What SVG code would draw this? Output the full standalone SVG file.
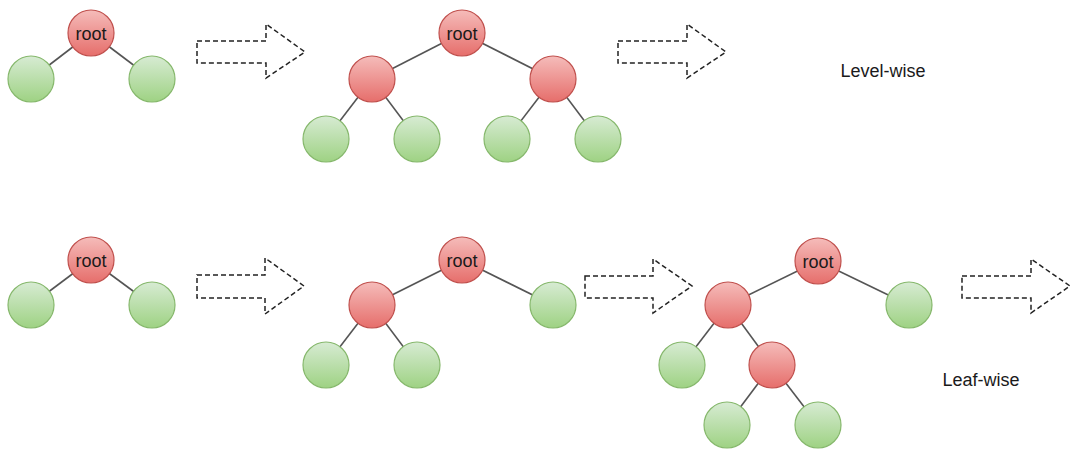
<svg xmlns="http://www.w3.org/2000/svg" width="1080" height="455" viewBox="0 0 1080 455">
<defs>
<linearGradient id="gr" x1="0" y1="0" x2="0" y2="1"><stop offset="0" stop-color="#f5bcba"/><stop offset="1" stop-color="#e66e6b"/></linearGradient>
<linearGradient id="gg" x1="0" y1="0" x2="0" y2="1"><stop offset="0" stop-color="#d7ebd3"/><stop offset="1" stop-color="#9ed283"/></linearGradient>
<style>
.r{fill:url(#gr);stroke:#c0504d;stroke-width:1.2}
.g{fill:url(#gg);stroke:#86b86c;stroke-width:1.2}
.e{stroke:#555;stroke-width:1.6;fill:none}
.a{fill:#fff;stroke:#222;stroke-width:1.5;stroke-dasharray:5 3}
.t{font-family:"Liberation Sans",Arial,sans-serif;font-size:18px;fill:#1a1a1a;text-anchor:middle}
</style>
</defs>
<rect width="1080" height="455" fill="#fff"/>
<g id="connectors">
<line class="e" x1="91" y1="33" x2="31" y2="79"/>
<line class="e" x1="91" y1="33" x2="152" y2="79"/>
<line class="e" x1="462" y1="33" x2="372" y2="79"/>
<line class="e" x1="462" y1="33" x2="553" y2="79"/>
<line class="e" x1="372" y1="79" x2="326" y2="139"/>
<line class="e" x1="372" y1="79" x2="417" y2="139"/>
<line class="e" x1="553" y1="79" x2="507" y2="139"/>
<line class="e" x1="553" y1="79" x2="598" y2="139"/>
<line class="e" x1="91" y1="260" x2="31" y2="305"/>
<line class="e" x1="91" y1="260" x2="152" y2="305"/>
<line class="e" x1="462" y1="260" x2="372" y2="305"/>
<line class="e" x1="462" y1="260" x2="553" y2="305"/>
<line class="e" x1="372" y1="305" x2="326" y2="365"/>
<line class="e" x1="372" y1="305" x2="417" y2="365"/>
<line class="e" x1="818" y1="261" x2="728" y2="305"/>
<line class="e" x1="818" y1="261" x2="909" y2="305"/>
<line class="e" x1="728" y1="305" x2="682" y2="365"/>
<line class="e" x1="728" y1="305" x2="772" y2="365"/>
<line class="e" x1="772" y1="365" x2="727" y2="425"/>
<line class="e" x1="772" y1="365" x2="818" y2="425"/>
</g>
<g id="arrow1"><path class="a" d="M197,41 H266 V24 L305,52 L266,78 V63 H197 Z"/></g>
<g id="arrow2"><path class="a" d="M618,41 H687 V24 L726,52 L687,78 V63 H618 Z"/></g>
<g id="arrow3"><path class="a" d="M197,275 H265 V258 L304,286 L265,314 V298 H197 Z"/></g>
<g id="arrow4"><path class="a" d="M585,276 H653 V259 L692,286 L653,313 V298 H585 Z"/></g>
<g id="arrow5"><path class="a" d="M962,276 H1031 V259 L1070,286 L1031,313 V298 H962 Z"/></g>
<g id="t1-root"><circle class="r" cx="91" cy="33" r="23"/><text class="t" x="91" y="40">root</text></g>
<g id="t1-l"><circle class="g" cx="31" cy="79" r="23"/></g>
<g id="t1-r"><circle class="g" cx="152" cy="79" r="23"/></g>
<g id="t2-root"><circle class="r" cx="462" cy="33" r="23"/><text class="t" x="462" y="40">root</text></g>
<g id="t2-l"><circle class="r" cx="372" cy="79" r="23"/></g>
<g id="t2-r"><circle class="r" cx="553" cy="79" r="23"/></g>
<g id="t2-ll"><circle class="g" cx="326" cy="139" r="23"/></g>
<g id="t2-lr"><circle class="g" cx="417" cy="139" r="23"/></g>
<g id="t2-rl"><circle class="g" cx="507" cy="139" r="23"/></g>
<g id="t2-rr"><circle class="g" cx="598" cy="139" r="23"/></g>
<g id="level-label"><text class="t" x="883" y="77">Level-wise</text></g>
<g id="t3-root"><circle class="r" cx="91" cy="260" r="23"/><text class="t" x="91" y="267">root</text></g>
<g id="t3-l"><circle class="g" cx="31" cy="305" r="23"/></g>
<g id="t3-r"><circle class="g" cx="152" cy="305" r="23"/></g>
<g id="t4-root"><circle class="r" cx="462" cy="260" r="23"/><text class="t" x="462" y="267">root</text></g>
<g id="t4-l"><circle class="r" cx="372" cy="305" r="23"/></g>
<g id="t4-r"><circle class="g" cx="553" cy="305" r="23"/></g>
<g id="t4-ll"><circle class="g" cx="326" cy="365" r="23"/></g>
<g id="t4-lr"><circle class="g" cx="417" cy="365" r="23"/></g>
<g id="t5-root"><circle class="r" cx="818" cy="261" r="23"/><text class="t" x="818" y="268">root</text></g>
<g id="t5-l"><circle class="r" cx="728" cy="305" r="23"/></g>
<g id="t5-r"><circle class="g" cx="909" cy="305" r="23"/></g>
<g id="t5-ll"><circle class="g" cx="682" cy="365" r="23"/></g>
<g id="t5-lr"><circle class="r" cx="772" cy="365" r="23"/></g>
<g id="t5-lrl"><circle class="g" cx="727" cy="425" r="23"/></g>
<g id="t5-lrr"><circle class="g" cx="818" cy="425" r="23"/></g>
<g id="leaf-label"><text class="t" x="981" y="386">Leaf-wise</text></g>
</svg>
